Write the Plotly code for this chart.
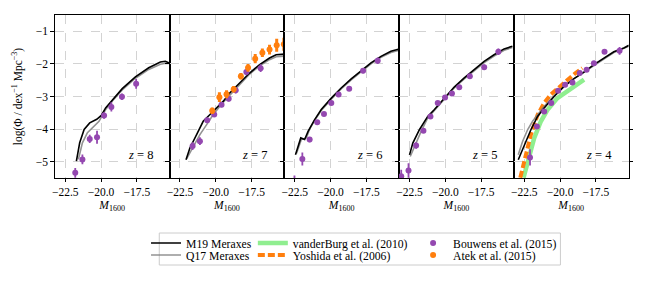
import plotly.graph_objects as go

# ---------------- data ----------------
z_labels = ["8", "7", "6", "5", "4"]

# Meraxes model luminosity functions (M19 = black, Q17 = grey)
m19_z8_mag = [-21.72, -21.49, -21.18, -20.79, -20.30, -19.98, -19.68, -19.10, -18.52, -17.60, -16.67, -15.86, -15.51, -15.24]
m19_z8_phi = [-4.98, -4.42, -4.01, -3.81, -3.70, -3.58, -3.35, -3.05, -2.76, -2.40, -2.12, -1.94, -1.92, -1.97]
q17_z8_mag = [-21.58, -21.30, -20.95, -20.60, -20.14, -19.68, -19.10, -18.52, -17.60, -16.67, -15.86, -15.51, -15.24]
q17_z8_phi = [-4.93, -4.42, -4.11, -3.96, -3.76, -3.40, -3.08, -2.80, -2.44, -2.17, -2.01, -1.98, -1.99]

m19_z7_mag = [-22.08, -21.81, -21.34, -20.88, -20.42, -19.95, -19.49, -19.03, -18.33, -17.64, -16.94, -16.25, -15.79, -15.21]
m19_z7_phi = [-4.94, -4.58, -4.17, -3.76, -3.56, -3.35, -3.15, -2.89, -2.59, -2.28, -2.02, -1.82, -1.72, -1.70]
q17_z7_mag = [-22.04, -21.69, -21.11, -20.65, -20.19, -19.49, -18.33, -17.64, -16.94, -16.25, -15.79, -15.21]
q17_z7_phi = [-4.91, -4.63, -4.17, -3.87, -3.56, -3.18, -2.62, -2.31, -2.06, -1.87, -1.78, -1.76]

m19_z6_mag = [-22.45, -22.22, -22.08, -21.81, -21.57, -21.11, -20.65, -19.95, -19.26, -18.56, -17.87, -17.18, -16.48, -15.79, -15.21]
m19_z6_phi = [-4.79, -4.48, -4.27, -4.32, -4.07, -3.71, -3.40, -3.05, -2.74, -2.46, -2.20, -1.97, -1.77, -1.61, -1.54]
q17_z6_mag = [-22.38, -22.04, -21.69, -21.46, -21.11, -20.65, -19.95, -19.26, -18.56, -17.87, -17.18, -16.48, -15.79, -15.21]
q17_z6_phi = [-4.75, -4.32, -4.27, -4.00, -3.73, -3.43, -3.08, -2.77, -2.49, -2.23, -2.00, -1.80, -1.65, -1.58]

m19_z5_mag = [-22.50, -22.27, -21.81, -21.23, -20.76, -20.07, -19.38, -18.68, -17.99, -17.29, -16.60, -15.90, -15.32]
m19_z5_phi = [-4.79, -4.43, -4.02, -3.61, -3.40, -3.05, -2.71, -2.43, -2.18, -1.92, -1.72, -1.54, -1.46]
q17_z5_mag = [-22.45, -22.15, -21.69, -21.23, -20.76, -20.07, -19.38, -18.68, -17.99, -17.29, -16.60, -15.90, -15.32]
q17_z5_phi = [-4.84, -4.53, -4.07, -3.66, -3.43, -3.08, -2.74, -2.46, -2.21, -1.96, -1.76, -1.58, -1.50]

m19_z4_mag = [-22.92, -22.50, -22.04, -21.57, -21.11, -20.42, -19.72, -19.03, -18.33, -17.64, -16.94, -16.25, -15.55, -15.20]
m19_z4_phi = [-4.94, -4.48, -4.02, -3.61, -3.35, -3.00, -2.69, -2.45, -2.25, -2.02, -1.82, -1.63, -1.51, -1.43]
q17_z4_mag = [-22.92, -22.62, -22.27, -21.92, -21.57, -21.11, -20.42, -19.72, -19.03, -18.33, -17.64, -16.94, -16.25, -15.55, -15.20]
q17_z4_phi = [-4.79, -4.38, -4.02, -3.76, -3.56, -3.30, -2.98, -2.68, -2.45, -2.25, -2.03, -1.83, -1.65, -1.52, -1.46]

# Bouwens et al. (2015)
bou_z8_mag = [-21.80, -21.30, -20.79, -20.28, -19.79, -19.28, -18.54, -17.55]
bou_z8_phi = [-5.34, -4.93, -4.30, -4.25, -3.58, -3.32, -3.01, -2.61]
bou_z8_err = [0.15, 0.15, 0.13, 0.20, 0.10, 0.14, 0.10, 0.15]

bou_z7_mag = [-21.62, -21.11, -20.60, -20.11, -19.60, -19.10, -18.61, -17.87, -16.87]
bou_z7_phi = [-4.52, -4.37, -3.73, -3.55, -3.25, -3.07, -2.81, -2.25, -2.13]
bou_z7_err = [0.12, 0.12, 0.08, 0.08, 0.08, 0.08, 0.10, 0.10, 0.12]

bou_z6_mag = [-22.52, -21.97, -21.46, -20.93, -20.46, -19.95, -19.44, -18.70, -17.73, -16.71]
bou_z6_phi = [-5.62, -4.92, -4.32, -3.79, -3.54, -3.20, -2.94, -2.76, -2.21, -1.90]
bou_z6_err = [0.20, 0.20, 0.08, 0.06, 0.06, 0.06, 0.06, 0.06, 0.08, 0.10]

bou_z5_mag = [-23.08, -22.57, -22.04, -21.53, -21.04, -20.53, -20.02, -19.54, -19.03, -18.29, -17.29, -16.30]
bou_z5_phi = [-5.45, -5.27, -4.50, -4.05, -3.61, -3.20, -3.03, -2.91, -2.72, -2.38, -2.10, -1.63]
bou_z5_err = [0.20, 0.22, 0.10, 0.06, 0.05, 0.05, 0.05, 0.05, 0.05, 0.06, 0.08, 0.10]

bou_z4_mag = [-22.10, -21.62, -21.11, -20.62, -20.14, -19.65, -19.14, -18.63, -18.15, -17.64, -16.90, -15.85]
bou_z4_phi = [-4.87, -3.92, -3.46, -3.20, -2.82, -2.64, -2.57, -2.28, -2.18, -1.98, -1.63, -1.60]
bou_z4_err = [0.25, 0.06, 0.05, 0.04, 0.04, 0.04, 0.04, 0.04, 0.05, 0.05, 0.06, 0.12]

# Atek et al. (2015), z = 7
atek_z7_mag = [-20.25, -19.75, -19.25, -18.75, -18.25, -17.75, -17.25, -16.75, -16.25, -15.75, -15.25]
atek_z7_phi = [-3.44, -3.02, -2.93, -2.78, -2.38, -2.12, -1.84, -1.66, -1.56, -1.43, -1.40]
atek_z7_err = [0.10, 0.15, 0.12, 0.10, 0.10, 0.12, 0.14, 0.13, 0.15, 0.20, 0.20]

# z = 4 literature fits
vdb_z4_mag = [-22.55, -22.15, -21.81, -21.34, -20.88, -20.19, -19.49, -18.92, -18.33]
vdb_z4_phi = [-5.49, -4.79, -4.28, -3.76, -3.41, -3.05, -2.84, -2.64, -2.48]
yos_z4_mag = [-22.78, -22.38, -22.04, -21.57, -21.11, -20.65, -20.19, -19.49, -18.92, -18.45]
yos_z4_phi = [-5.49, -4.79, -4.17, -3.56, -3.20, -2.94, -2.76, -2.48, -2.28, -2.13]

x_ticks = [-22.5, -20.0, -17.5]
y_ticks = [-1, -2, -3, -4, -5]

# ---------------- styling ----------------
FONT = "Liberation Serif"
PURPLE = "#9448b0"
ORANGE = "#ff7f0e"
GREEN = "#90ee90"
GREY = "#7f7f7f"

W, H = 648, 306
edges_px = [52, 167.3, 282.6, 397.9, 513.2, 628.5]
y_dom = [1 - 178 / H, 1 - 15 / H]
x_range = [-23.23, -15.22]
y_range = [-5.5, -0.5]

m19 = [(m19_z8_mag, m19_z8_phi), (m19_z7_mag, m19_z7_phi), (m19_z6_mag, m19_z6_phi),
       (m19_z5_mag, m19_z5_phi), (m19_z4_mag, m19_z4_phi)]
q17 = [(q17_z8_mag, q17_z8_phi), (q17_z7_mag, q17_z7_phi), (q17_z6_mag, q17_z6_phi),
       (q17_z5_mag, q17_z5_phi), (q17_z4_mag, q17_z4_phi)]
bou = [(bou_z8_mag, bou_z8_phi, bou_z8_err), (bou_z7_mag, bou_z7_phi, bou_z7_err),
       (bou_z6_mag, bou_z6_phi, bou_z6_err), (bou_z5_mag, bou_z5_phi, bou_z5_err),
       (bou_z4_mag, bou_z4_phi, bou_z4_err)]

fig = go.Figure()

for i in range(5):
    xa = "x" if i == 0 else f"x{i+1}"
    ya = "y" if i == 0 else f"y{i+1}"
    first = i == 0
    if i == 4:
        fig.add_trace(go.Scatter(x=vdb_z4_mag, y=vdb_z4_phi, mode="lines", name="vanderBurg et al. (2010)",
                                 line=dict(color=GREEN, width=4.5), xaxis=xa, yaxis=ya,
                                 legend="legend3", showlegend=True))
        fig.add_trace(go.Scatter(x=yos_z4_mag, y=yos_z4_phi, mode="lines", name="Yoshida et al. (2006)",
                                 line=dict(color=ORANGE, width=4, dash="7px,3px"), xaxis=xa, yaxis=ya,
                                 legend="legend4", showlegend=True))
    fig.add_trace(go.Scatter(x=q17[i][0], y=q17[i][1], mode="lines", name="Q17 Meraxes",
                             line=dict(color=GREY, width=1.6), opacity=0.85, xaxis=xa, yaxis=ya,
                             legend="legend2", showlegend=first))
    fig.add_trace(go.Scatter(x=m19[i][0], y=m19[i][1], mode="lines", name="M19 Meraxes",
                             line=dict(color="black", width=1.6), xaxis=xa, yaxis=ya,
                             legend="legend", showlegend=first))
    fig.add_trace(go.Scatter(x=bou[i][0], y=bou[i][1], mode="markers", name="Bouwens et al. (2015)",
                             marker=dict(color=PURPLE, size=6),
                             error_y=dict(type="data", array=bou[i][2], color=PURPLE, thickness=1.8, width=0),
                             xaxis=xa, yaxis=ya, legend="legend5", showlegend=first))
    if i == 1:
        fig.add_trace(go.Scatter(x=atek_z7_mag, y=atek_z7_phi, mode="markers", name="Atek et al. (2015)",
                                 marker=dict(color=ORANGE, size=6),
                                 error_y=dict(type="data", array=atek_z7_err, color=ORANGE, thickness=3, width=0),
                                 xaxis=xa, yaxis=ya, legend="legend6", showlegend=True))

layout = dict(
    width=W, height=H,
    margin=dict(l=0, r=0, t=0, b=0),
    paper_bgcolor="white", plot_bgcolor="white",
    font=dict(family=FONT, size=11.5, color="black"),
    annotations=[], shapes=[],
)

axis_common = dict(showline=True, linecolor="black", linewidth=0.9, mirror="ticks",
                   ticks="outside", ticklen=3.5, tickwidth=0.8, tickcolor="black",
                   showgrid=True, gridcolor="#d3d3d3", gridwidth=0.8, griddash="dash",
                   zeroline=False)

for i in range(5):
    xk = "xaxis" if i == 0 else f"xaxis{i+1}"
    yk = "yaxis" if i == 0 else f"yaxis{i+1}"
    ya = "y" if i == 0 else f"y{i+1}"
    xa = "x" if i == 0 else f"x{i+1}"
    layout[xk] = dict(axis_common, domain=[edges_px[i] / W, edges_px[i + 1] / W], range=x_range,
                      anchor=ya, tickvals=x_ticks, tickformat=".1f", mirror=True,
                      title=dict(text="<i>M</i><sub>1600</sub>", standoff=3, font=dict(size=11.5)))
    layout[yk] = dict(axis_common, domain=y_dom, range=y_range, anchor=xa, tickvals=y_ticks,
                      showticklabels=(i == 0))
    if i == 0:
        layout[yk]["title"] = dict(text="log(Φ / dex<sup>−1</sup> Mpc<sup>−3</sup>)", standoff=10,
                                   font=dict(size=11.5))
    layout["annotations"].append(dict(
        text=f"<i>z</i> = {z_labels[i]}", xref=f"{xa} domain", yref=f"{ya} domain",
        x=0.87, y=0.14, xanchor="right", yanchor="middle", showarrow=False,
        font=dict(size=12.5, family=FONT)))

# legend frame
layout["shapes"].append(dict(type="rect", xref="paper", yref="paper",
                             x0=157 / W, x1=560 / W, y0=1 - 265 / H, y1=1 - 233 / H,
                             line=dict(color="#cccccc", width=1), fillcolor="rgba(0,0,0,0)"))

leg_font = dict(family=FONT, size=11.7, color="black")
row_y = [1 - 243 / H, 1 - 255 / H]
col_text_x = [186.7, 294, 455]
leg_keys = [("legend", 0, 0), ("legend2", 0, 1), ("legend3", 1, 0),
            ("legend4", 1, 1), ("legend5", 2, 0), ("legend6", 2, 1)]
for key, c, r in leg_keys:
    layout[key] = dict(x=(col_text_x[c] - 43) / W, y=row_y[r], xanchor="left", yanchor="middle",
                       bgcolor="rgba(0,0,0,0)", borderwidth=0, font=leg_font, itemwidth=30)

fig.update_layout(**layout)
fig.write_html("out.html", config={"displayModeBar": False},
               post_script="document.body.style.margin='0';document.body.style.padding='0';")
